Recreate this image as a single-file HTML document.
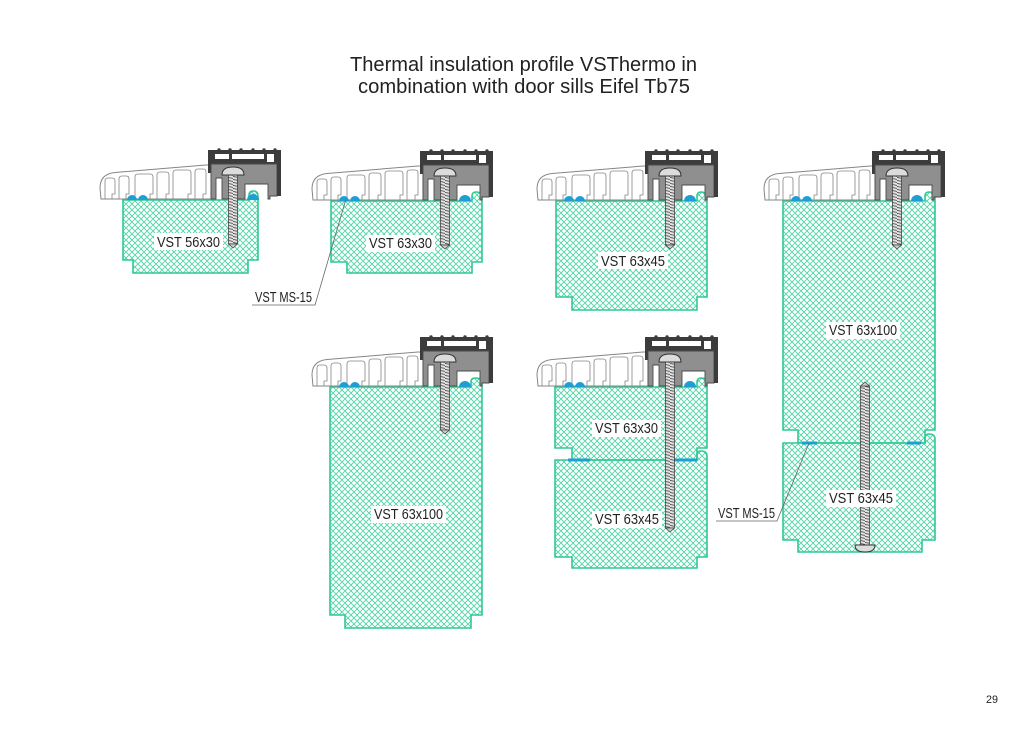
<!DOCTYPE html>
<html><head><meta charset="utf-8"><style>
html,body{margin:0;padding:0;background:#fff;}
svg{display:block;}
text{font-family:"Liberation Sans",sans-serif;fill:#222;}
</style></head><body>
<svg width="1024" height="729" viewBox="0 0 1024 729" xmlns="http://www.w3.org/2000/svg">
<defs>
<pattern id="h" patternUnits="userSpaceOnUse" width="6" height="6">
<path d="M0,0L6,6M6,0L0,6M-1,5L1,7M5,-1L7,1M-1,1L1,-1M5,7L7,5" stroke="#52d4a8" stroke-width="0.95" fill="none"/>
</pattern>
<pattern id="t" patternUnits="userSpaceOnUse" width="10" height="3">
<rect width="10" height="3" fill="#e2e2e2"/>
<path d="M0,0.4L10,2.4M-10,-1.6L10,2.4" stroke="#505050" stroke-width="0.9"/>
</pattern>
<g id="sill">
<path d="M-132,-1 L-133,-12 Q-133,-26 -118,-27.5 L-27,-35 L-22,-35 L-22,-1 Z" fill="#fff" stroke="#858585" stroke-width="1"/>
<g fill="none" stroke="#858585" stroke-width="0.8">
<path d="M-128,-1 L-128,-19 Q-128,-22 -125,-22 L-121,-22 Q-118,-22 -118,-19 L-118,-6 L-121,-6 L-121,-1"/>
<path d="M-114,-1 L-114,-21 Q-114,-24 -111,-24 L-107,-24 Q-104,-24 -104,-21 L-104,-6 L-107,-6 L-107,-1"/>
<path d="M-98,-1 L-98,-23 Q-98,-26 -95,-26 L-83,-26 Q-80,-26 -80,-23 L-80,-6 L-83,-6 L-83,-1"/>
<path d="M-76,-1 L-76,-25 Q-76,-28 -73,-28 L-67,-28 Q-64,-28 -64,-25 L-64,-6 L-67,-6 L-67,-1"/>
<path d="M-60,-1 L-60,-27 Q-60,-30 -57,-30 L-45,-30 Q-42,-30 -42,-27 L-42,-6 L-45,-6 L-45,-1"/>
<path d="M-38,-1 L-38,-28 Q-38,-31 -35,-31 L-30,-31 Q-27,-31 -27,-28 L-27,-6 L-30,-6 L-30,-1"/>
</g>
<path d="M-25,-50 L48,-50 L48,-4 L44,-4 L44,-36 L-20,-36 L-20,-27 L-25,-27 Z" fill="#3c3c3c"/>
<rect x="-18" y="-46" width="14" height="5" fill="#fff"/>
<rect x="-1" y="-46" width="32" height="5" fill="#fff"/>
<rect x="34" y="-46" width="7" height="8" fill="#fff"/>
<g fill="#3c3c3c"><circle cx="-14" cy="-50" r="1.7"/><circle cx="-3" cy="-50" r="1.7"/><circle cx="8" cy="-50" r="1.7"/><circle cx="20" cy="-50" r="1.7"/><circle cx="31" cy="-50" r="1.7"/><circle cx="42" cy="-50" r="1.7"/></g>
<path d="M-22,-36 L44,-36 L44,-4 L37,-4 L37,-1 L35,-1 L35,-16 L12,-16 L12,-1 L-11,-1 L-11,-22 L-17,-22 L-17,-1 L-22,-1 Z" fill="#8f8f8f" stroke="#4a4a4a" stroke-width="0.9"/>
<rect x="44" y="-36" width="4" height="32" fill="#3c3c3c"/>
<path d="M-106,0 A5,5 0 0 1 -96,0 Z M-95,0 A5,5 0 0 1 -85,0 Z M14,0 A6,6 0 0 1 26,0 Z" fill="#1d9fd6"/>
</g>
</defs>

<!-- Title -->
<text x="523.5" y="71" font-size="20" text-anchor="middle" textLength="347" lengthAdjust="spacingAndGlyphs">Thermal insulation profile VSThermo in</text>
<text x="524" y="93" font-size="20" text-anchor="middle" textLength="332" lengthAdjust="spacingAndGlyphs">combination with door sills Eifel Tb75</text>

<!-- Blocks -->
<g fill="url(#h)" stroke="#30c993" stroke-width="1.6" stroke-linejoin="miter">
<path d="M123,200 L249,200 L249,195 Q249,191 253,191 Q258,191 258,196 L258,260 L248,260 L248,273 L133,273 L133,260 L123,260 Z"/>
<path d="M331,201 L472,201 L472,196 Q472,192 476,192 Q482,192 482,197 L482,262 L472,262 L472,273 L347,273 L347,262 L331,262 Z"/>
<path d="M556,201 L697,201 L697,196 Q697,192 701,192 Q707,192 707,197 L707,297 L697,297 L697,310 L572,310 L572,297 L556,297 Z"/>
<path d="M783,201 L925,201 L925,196 Q925,192 929,192 Q935,192 935,197 L935,430 L925,430 L925,443 L798,443 L798,430 L783,430 Z"/>
<path d="M783,443 L925,443 L925,438 Q925,434 929,434 Q935,434 935,439 L935,540 L922,540 L922,552 L798,552 L798,540 L783,540 Z"/>
<path d="M330,387 L471,387 L471,382 Q471,378 475,378 Q482,378 482,383 L482,615 L471,615 L471,628 L345,628 L345,615 L330,615 Z"/>
<path d="M555,387 L697,387 L697,382 Q697,378 701,378 Q707,378 707,383 L707,448 L697,448 L697,460 L572,460 L572,448 L555,448 Z"/>
<path d="M555,460 L697,460 L697,455 Q697,451 701,451 Q707,451 707,456 L707,557 L697,557 L697,568 L572,568 L572,557 L555,557 Z"/>
</g>

<!-- joint seals -->
<g fill="#1d9fd6">
<rect x="802" y="441.5" width="15" height="3"/>
<rect x="907" y="441.5" width="14" height="3"/>
<rect x="568" y="458.5" width="22" height="3"/>
<rect x="672" y="458.5" width="25" height="3"/>
</g>

<!-- Sills -->
<use href="#sill" transform="translate(233,200)"/>
<use href="#sill" transform="translate(445,201)"/>
<use href="#sill" transform="translate(670,201)"/>
<use href="#sill" transform="translate(897,201)"/>
<use href="#sill" transform="translate(445,387)"/>
<use href="#sill" transform="translate(670,387)"/>

<!-- Screws (top-down) -->
<g stroke="#444" stroke-width="0.8">
<g transform="translate(233,200)"><rect x="-4.5" y="-25" width="9" height="69" fill="url(#t)"/><path d="M-4.5,44 L4.5,44 L0,48 Z" fill="#ccc"/><path d="M-11,-25 Q-11,-33 0,-33 Q11,-33 11,-25 Z" fill="#dcdcdc" stroke="#333" stroke-width="1"/></g>
<g transform="translate(445,201)"><rect x="-4.5" y="-25" width="9" height="69" fill="url(#t)"/><path d="M-4.5,44 L4.5,44 L0,48 Z" fill="#ccc"/><path d="M-11,-25 Q-11,-33 0,-33 Q11,-33 11,-25 Z" fill="#dcdcdc" stroke="#333" stroke-width="1"/></g>
<g transform="translate(670,201)"><rect x="-4.5" y="-25" width="9" height="69" fill="url(#t)"/><path d="M-4.5,44 L4.5,44 L0,48 Z" fill="#ccc"/><path d="M-11,-25 Q-11,-33 0,-33 Q11,-33 11,-25 Z" fill="#dcdcdc" stroke="#333" stroke-width="1"/></g>
<g transform="translate(897,201)"><rect x="-4.5" y="-25" width="9" height="69" fill="url(#t)"/><path d="M-4.5,44 L4.5,44 L0,48 Z" fill="#ccc"/><path d="M-11,-25 Q-11,-33 0,-33 Q11,-33 11,-25 Z" fill="#dcdcdc" stroke="#333" stroke-width="1"/></g>
<g transform="translate(445,387)"><rect x="-4.5" y="-25" width="9" height="68" fill="url(#t)"/><path d="M-4.5,43 L4.5,43 L0,47 Z" fill="#ccc"/><path d="M-11,-25 Q-11,-33 0,-33 Q11,-33 11,-25 Z" fill="#dcdcdc" stroke="#333" stroke-width="1"/></g>
<g transform="translate(670,387)"><rect x="-4.5" y="-25" width="9" height="166" fill="url(#t)"/><path d="M-4.5,141 L4.5,141 L0,145 Z" fill="#ccc"/><path d="M-11,-25 Q-11,-33 0,-33 Q11,-33 11,-25 Z" fill="#dcdcdc" stroke="#333" stroke-width="1"/></g>
<!-- bottom-up screw -->
<g transform="translate(865,545)"><rect x="-4.5" y="-159" width="9" height="159" fill="url(#t)"/><path d="M-4.5,-159 L4.5,-159 L0,-163 Z" fill="#ccc"/><path d="M-10,0 Q-10,7 0,7 Q10,7 10,0 Z" fill="#dcdcdc" stroke="#333" stroke-width="1"/></g>
</g>

<!-- Leaders -->
<g fill="none" stroke="#666" stroke-width="0.8">
<path d="M252,305 L315,305 L346,199"/>
<path d="M716,521 L777,521 L809,443"/>
</g>

<!-- Labels -->
<g fill="#fff">
<rect x="154" y="233" width="69" height="17"/>
<rect x="366" y="235" width="69" height="17"/>
<rect x="598" y="252" width="70" height="17"/>
<rect x="826" y="322" width="74" height="17"/>
<rect x="826" y="490" width="70" height="17"/>
<rect x="371" y="506" width="75" height="17"/>
<rect x="592" y="420" width="69" height="17"/>
<rect x="592" y="511" width="70" height="17"/>
</g>
<g font-size="14.5">
<text x="157" y="247" textLength="63" lengthAdjust="spacingAndGlyphs">VST 56x30</text>
<text x="369" y="248" textLength="63" lengthAdjust="spacingAndGlyphs">VST 63x30</text>
<text x="601" y="266" textLength="64" lengthAdjust="spacingAndGlyphs">VST 63x45</text>
<text x="829" y="335" textLength="68" lengthAdjust="spacingAndGlyphs">VST 63x100</text>
<text x="829" y="503" textLength="64" lengthAdjust="spacingAndGlyphs">VST 63x45</text>
<text x="374" y="519" textLength="69" lengthAdjust="spacingAndGlyphs">VST 63x100</text>
<text x="595" y="433" textLength="63" lengthAdjust="spacingAndGlyphs">VST 63x30</text>
<text x="595" y="524" textLength="64" lengthAdjust="spacingAndGlyphs">VST 63x45</text>
<text x="255" y="302" textLength="57" lengthAdjust="spacingAndGlyphs">VST MS-15</text>
<text x="718" y="518" textLength="57" lengthAdjust="spacingAndGlyphs">VST MS-15</text>
</g>

<text x="986" y="703" font-size="11" textLength="12" lengthAdjust="spacingAndGlyphs">29</text>
</svg>
</body></html>
